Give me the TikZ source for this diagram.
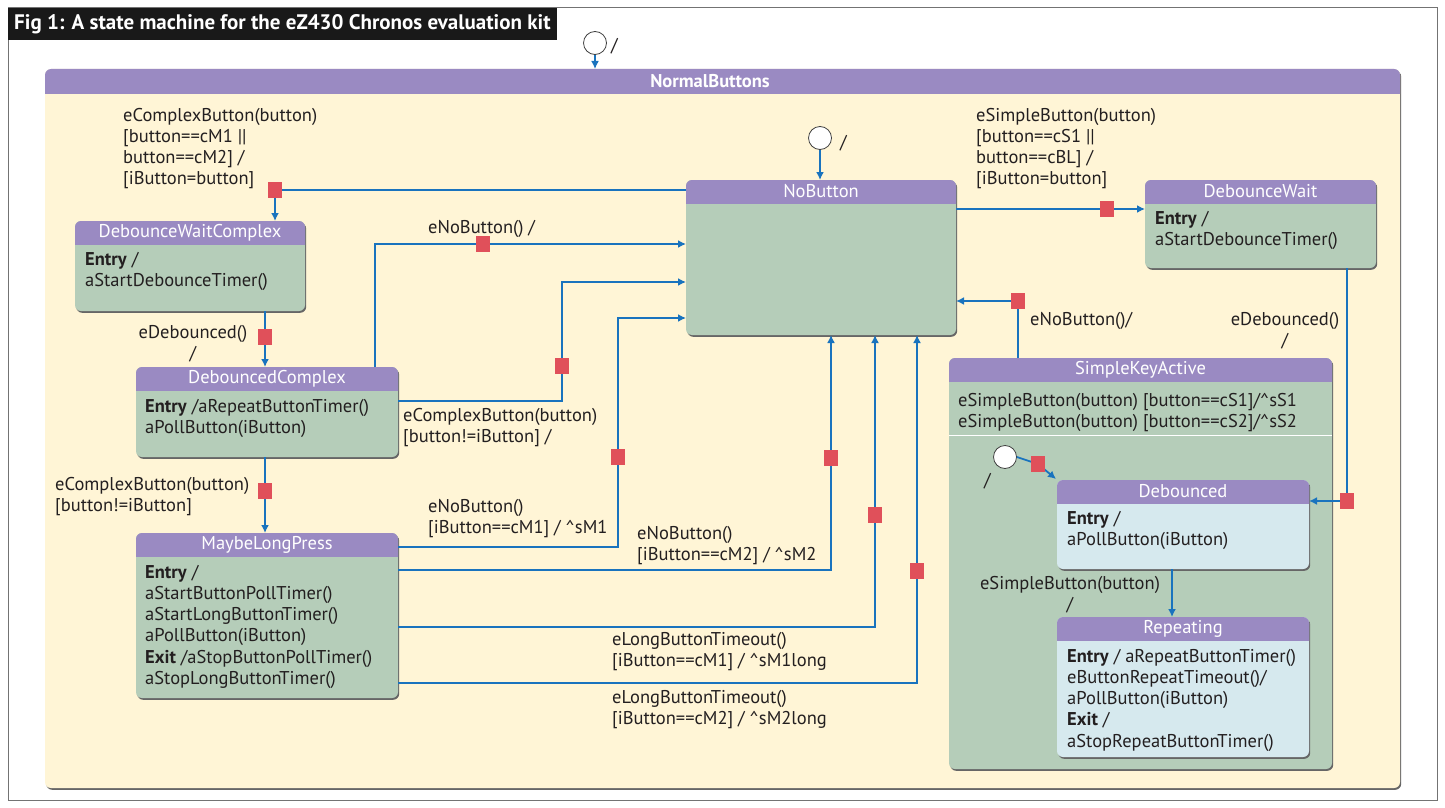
\documentclass[tikz,border=0pt]{standalone}
\usepackage{fontspec}
\setmainfont{PT Sans}
\usetikzlibrary{arrows.meta,shadows}
\definecolor{hdr}{RGB}{154,138,194}
\definecolor{stg}{RGB}{181,205,185}
\definecolor{stb}{RGB}{214,233,238}
\definecolor{ylw}{RGB}{255,245,214}
\definecolor{lnb}{RGB}{25,115,190}
\definecolor{grd}{RGB}{224,80,90}
\definecolor{txt}{RGB}{35,31,32}
\newcommand\fs{\fontsize{18.5}{21.2}\selectfont}
\newcommand\mkstate[7]{%
  \node[stbody, fill=#7, minimum width=#4pt-#2pt, minimum height=#5pt-#3pt, anchor=north west] (#1) at (#2,#3) {};
  \begin{scope}
    \clip (#2-2,#3-2) rectangle (#4+2,#3+23);
    \fill[hdr, rounded corners=6pt] (#2,#3) rectangle (#4,#5);
  \end{scope}
  \node[hdrtext] (#1-title) at ({(#2+#4)/2},#3+11.5) {#6};
}
\begin{document}
\begin{tikzpicture}[x=1pt,y=-1pt,
  tr/.style={draw=lnb, line width=1.8pt, -{Latex[length=8pt,width=8pt]}},
  guard/.style={fill=grd, minimum width=14pt, minimum height=16pt, inner sep=0pt, draw=none},
  lbl/.style={font=\fs, text=txt, align=left, inner sep=0pt, anchor=north west, yshift=-3pt},
  clbl/.style={font=\fs, text=txt, align=center, inner sep=0pt, anchor=north, yshift=-3pt},
  stbody/.style={rounded corners=6pt, inner sep=0pt, outer sep=0pt,
     drop shadow={shadow xshift=1.2pt, shadow yshift=-1.8pt, fill=black!60, opacity=1}},
  hdrtext/.style={font=\fs, text=white, inner sep=0pt},
  init/.style={circle, draw=black!75, fill=white, minimum size=23pt, inner sep=0pt, line width=0.8pt}]
\useasboundingbox (0,0) rectangle (1445,808);
\fill[white] (0,0) rectangle (1445,808);
% outer frame and title
\draw[black!55, line width=1pt] (8,8) rectangle (1437,800);
\fill[black!90] (8,8) rectangle (557,40);
\node[font=\fontsize{21}{23}\selectfont\bfseries, text=white, anchor=west, inner sep=0pt] (figtitle) at (14,24) {Fig 1: A state machine for the eZ430 Chronos evaluation kit};

% NormalButtons
\node[stbody, fill=ylw, minimum width=1355pt, minimum height=719pt, anchor=north west] (nbs) at (45,69) {};
\begin{scope}
  \clip (43,67) rectangle (1402,93);
  \fill[hdr, rounded corners=6pt] (45,69) rectangle (1400,788);
\end{scope}
\node[hdrtext, font=\fs\bfseries] (nbs-title) at (710,81) {NormalButtons};

% states
\mkstate{nb}{686}{180}{956}{335}{NoButton}{stg}
\mkstate{dw}{1145}{180}{1376}{268}{DebounceWait}{stg}
\mkstate{dwc}{75}{221}{305}{311}{DebounceWaitComplex}{stg}
\mkstate{dc}{136}{367}{398}{457}{DebouncedComplex}{stg}
\mkstate{mlp}{136}{533}{398}{698}{MaybeLongPress}{stg}
\mkstate{ska}{949}{358}{1332}{769}{SimpleKeyActive}{stg}
\draw[white, line width=1pt] (ska.west |- 0,435) -- (ska.east |- 0,435);
\mkstate{deb}{1057}{480}{1309}{569}{Debounced}{stb}
\mkstate{rep}{1057}{617}{1309}{757}{Repeating}{stb}

% state bodies
\node[lbl] (dw-body) at (1155,208) {\textbf{Entry} /\\aStartDebounceTimer()};
\node[lbl] (dwc-body) at (85,249) {\textbf{Entry} /\\aStartDebounceTimer()};
\node[lbl] (dc-body) at (145,396) {\textbf{Entry} /aRepeatButtonTimer()\\aPollButton(iButton)};
\node[lbl] (mlp-body) at (145,562) {\textbf{Entry} /\\aStartButtonPollTimer()\\aStartLongButtonTimer()\\aPollButton(iButton)\\\textbf{Exit} /aStopButtonPollTimer()\\aStopLongButtonTimer()};
\node[lbl] (ska-body) at (958,390) {eSimpleButton(button) [button==cS1]/\textasciicircum sS1\\eSimpleButton(button) [button==cS2]/\textasciicircum sS2};
\node[lbl] (deb-body) at (1067,508) {\textbf{Entry} /\\aPollButton(iButton)};
\node[lbl] (rep-body) at (1067,646) {\textbf{Entry} / aRepeatButtonTimer()\\eButtonRepeatTimeout()/\\aPollButton(iButton)\\\textbf{Exit} /\\aStopRepeatButtonTimer()};

% initial states
\node[init] (init0) at (595,43) {};
\node[lbl, anchor=west, yshift=0pt] (init0-l) at (611,43) {/};
\node[init] (init1) at (820,138) {};
\node[lbl, anchor=west, yshift=0pt] (init1-l) at (840,140) {/};
\node[init] (init2) at (1005,457) {};
\node[lbl, anchor=west, yshift=0pt] (init2-l) at (984,478) {/};

% transitions
\draw[tr] (init0) -- (init0 |- nbs.north);
\draw[tr] (init1) -- (init1 |- nb.north);
\draw[tr] (init2.east) -- ++(21,7) node[guard, pos=1] {} -- ([xshift=-1pt,yshift=1pt]deb.north west);

\draw[tr] ([yshift=-29pt]nb.north east) -- ([yshift=-29pt]dw.north west) node[guard, pos=0.8] {};
\draw[tr] ([yshift=-10pt]nb.north west) -| ([xshift=200pt]dwc.north west) node[guard, pos=0.5] {};
\draw[tr] ([xshift=190pt]dwc.south west) -- ([xshift=129pt]dc.north west) node[guard, pos=0.46] {};
\draw[tr] ([xshift=239pt]dc.north west) |- ([yshift=-64pt]nb.north west) node[guard, pos=0.674] {};
\draw[tr] ([yshift=-34pt]dc.north east) -- ++(164,0) |- ([yshift=-102pt]nb.north west) node[guard, pos=0.145] {};
\draw[tr] ([xshift=129pt]dc.south west) -- ([xshift=129pt]mlp.north west) node[guard, pos=0.447] {};
\draw[tr] ([yshift=-14pt]mlp.north east) -- ++(220,0) |- ([yshift=-138pt]nb.north west) node[guard, pos=0.197] {};
\draw[tr] ([yshift=-37pt]mlp.north east) -| ([xshift=145pt]nb.south west) node[guard, pos=0.738] {};
\draw[tr] ([yshift=-94pt]mlp.north east) -| ([xshift=189pt]nb.south west) node[guard, pos=0.692] {};
\draw[tr] ([yshift=-150pt]mlp.north east) -| ([xshift=231pt]nb.south west) node[guard, pos=0.661] {};
\draw[tr] ([xshift=69pt]ska.north west) |- ([yshift=-121pt]nb.north east) node[guard, pos=0.5] {};
\draw[tr] ([xshift=202pt]dw.south west) |- ([yshift=-21pt]deb.north east) node[guard, pos=0.5] {};
\draw[tr] ([xshift=115pt]deb.south west) -- ([xshift=115pt]rep.north west);

% transition labels
\node[lbl] (l-ecb1) at (123,105) {eComplexButton(button)\\{}[button==cM1 ||\\button==cM2] /\\{}[iButton=button]};
\node[lbl] (l-esb1) at (976,105) {eSimpleButton(button)\\{}[button==cS1 ||\\button==cBL] /\\{}[iButton=button]};
\node[clbl] (l-edb1) at (193,322) {eDebounced()\\/};
\node[clbl] (l-edb2) at (1285,309) {eDebounced()\\/};
\node[lbl] (l-enb1) at (428,217) {eNoButton() /};
\node[lbl] (l-ecb2) at (403,405) {eComplexButton(button)\\{}[button!=iButton] /};
\node[lbl] (l-ecb3) at (55,474) {eComplexButton(button)\\{}[button!=iButton]};
\node[lbl] (l-enb2) at (428,496) {eNoButton()\\{}[iButton==cM1] / \textasciicircum sM1};
\node[lbl] (l-enb3) at (637,523) {eNoButton()\\{}[iButton==cM2] / \textasciicircum sM2};
\node[lbl] (l-elt1) at (612,629) {eLongButtonTimeout()\\{}[iButton==cM1] / \textasciicircum sM1long};
\node[lbl] (l-elt2) at (612,687) {eLongButtonTimeout()\\{}[iButton==cM2] / \textasciicircum sM2long};
\node[lbl] (l-enb4) at (1030,309) {eNoButton()/};
\node[clbl] (l-esb2) at (1070,573) {eSimpleButton(button)\\/};
\end{tikzpicture}
\end{document}
